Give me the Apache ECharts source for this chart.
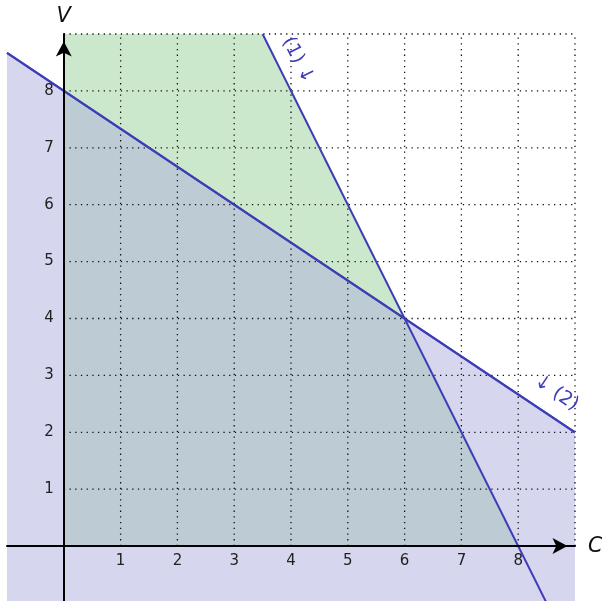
<!DOCTYPE html>
<html>
<head>
<meta charset="utf-8">
<script src="https://cdn.jsdelivr.net/npm/echarts@6/dist/echarts.min.js"></script>
<style>html,body{margin:0;padding:0;background:#fff}#main{width:602px;height:601px}</style>
</head>
<body>
<div id="main"></div>
<script>
	// values
	var gridTicks = [1, 2, 3, 4, 5, 6, 7, 8, 9];
	var tickLabels = [1, 2, 3, 4, 5, 6, 7, 8];
	var line1 = [[3.5, 9], [8.5, -1]];
	var line2 = [[-1, 8.667], [9, 2]];
	var regionGreen = [[0, 0], [0, 9], [3.5, 9], [8, 0]];
	var notes = [
		{text: '(1) \u2193', at: [4.12, 8.54], line: line1},
		{text: '\u2193 (2)', at: [8.67, 2.69], line: line2}
	];
	var axisNames = [
		{text: 'C', at: [9, 0], dx: 13, dy: 0, align: 'left'},
		{text: 'V', at: [0, 9], dx: 0, dy: -17, align: 'center'}
	];

	var blue = '#3d3db6';
	var myChart = echarts.init(document.getElementById('main'));

	var axisCommon = {
		type: 'value', min: -1, max: 9, interval: 1, z: 10,
		axisLine: {onZero: true, symbol: ['none', 'arrow'], symbolSize: [12, 15], symbolOffset: [0, -7.5],
			lineStyle: {color: '#000', width: 2}},
		axisTick: {show: false},
		splitLine: {show: false},
		axisLabel: {show: false}
	};

	var option = {
		animation: false,
		grid: {left: 7, top: 34, width: 568, height: 569, containLabel: false, outerBoundsMode: 'none'},
		xAxis: axisCommon,
		yAxis: echarts.util.clone(axisCommon),
		series: [{
			// green region
			type: 'custom',
			data: [regionGreen[0]],
			silent: true,
			renderItem: function (params, api) {
				return {
					type: 'polygon',
					shape: {points: regionGreen.map(function (p) { return api.coord(p); })},
					style: {fill: '#cce8cc'}
				};
			}
		}, {
			// constraint (2) with its half plane
			type: 'line',
			data: line2,
			showSymbol: false,
			silent: true,
			lineStyle: {color: blue, width: 2},
			areaStyle: {origin: 'start', color: 'rgba(173,173,221,0.5)', opacity: 1},
			z: 3
		}, {
			// dotted grid, first quadrant only
			type: 'custom',
			data: gridTicks.map(function (k) { return [k, k]; }),
			silent: true,
			z: 4,
			renderItem: function (params, api) {
				var k = api.value(0);
				var st = {stroke: '#111', lineWidth: 1.3, lineDash: [1.3, 4.4]};
				var a = api.coord([k, 0]), b = api.coord([k, 9]);
				var c = api.coord([0, k]), d = api.coord([9, k]);
				return {
					type: 'group',
					children: [
						{type: 'line', shape: {x1: a[0], y1: a[1], x2: b[0], y2: b[1]}, style: st},
						{type: 'line', shape: {x1: c[0], y1: c[1], x2: d[0], y2: d[1]}, style: st}
					]
				};
			}
		}, {
			type: 'line',
			data: line1,
			showSymbol: false,
			silent: true,
			lineStyle: {color: blue, width: 2},
			z: 5
		}, {
			type: 'line',
			data: line2,
			showSymbol: false,
			silent: true,
			lineStyle: {color: blue, width: 2},
			z: 5
		}, {
			// tick labels on both axes
			type: 'custom',
			data: tickLabels.map(function (k) { return [k, k]; }),
			silent: true,
			z: 12,
			renderItem: function (params, api) {
				var k = api.value(0);
				var px = api.coord([k, 0]), py = api.coord([0, k]);
				function lab(x, y, align) {
					return {type: 'text', x: x, y: y,
						style: {text: String(k), fontSize: 15, fontFamily: 'DejaVu Sans', fill: '#222',
							align: align, verticalAlign: 'middle'}};
				}
				return {
					type: 'group',
					children: [lab(px[0], px[1] + 15, 'center'), lab(py[0] - 10, py[1], 'right')]
				};
			}
		}, {
			// axis names
			type: 'custom',
			data: axisNames.map(function (n) { return n.at; }),
			silent: true,
			z: 12,
			renderItem: function (params, api) {
				var n = axisNames[params.dataIndex];
				var p = api.coord(n.at);
				return {
					type: 'text',
					x: p[0] + n.dx, y: p[1] + n.dy,
					style: {text: n.text, fontSize: 21, fontStyle: 'italic', fontFamily: 'DejaVu Sans', fill: '#111',
						align: n.align, verticalAlign: 'middle'}
				};
			}
		}, {
			// line notes
			type: 'custom',
			data: notes.map(function (n) { return n.at; }),
			silent: true,
			z: 6,
			renderItem: function (params, api) {
				var n = notes[params.dataIndex];
				var p = api.coord(n.at);
				var p0 = api.coord(n.line[0]), p1 = api.coord(n.line[1]);
				var rot = -Math.atan2(p1[1] - p0[1], p1[0] - p0[0]);
				return {
					type: 'text',
					x: p[0], y: p[1],
					rotation: rot,
					style: {
						text: n.text, fill: blue,
						fontSize: 19, fontFamily: 'DejaVu Sans',
						align: 'center', verticalAlign: 'middle'
					}
				};
			}
		}]
	};
	myChart.setOption(option);
</script>
</body>
</html>
